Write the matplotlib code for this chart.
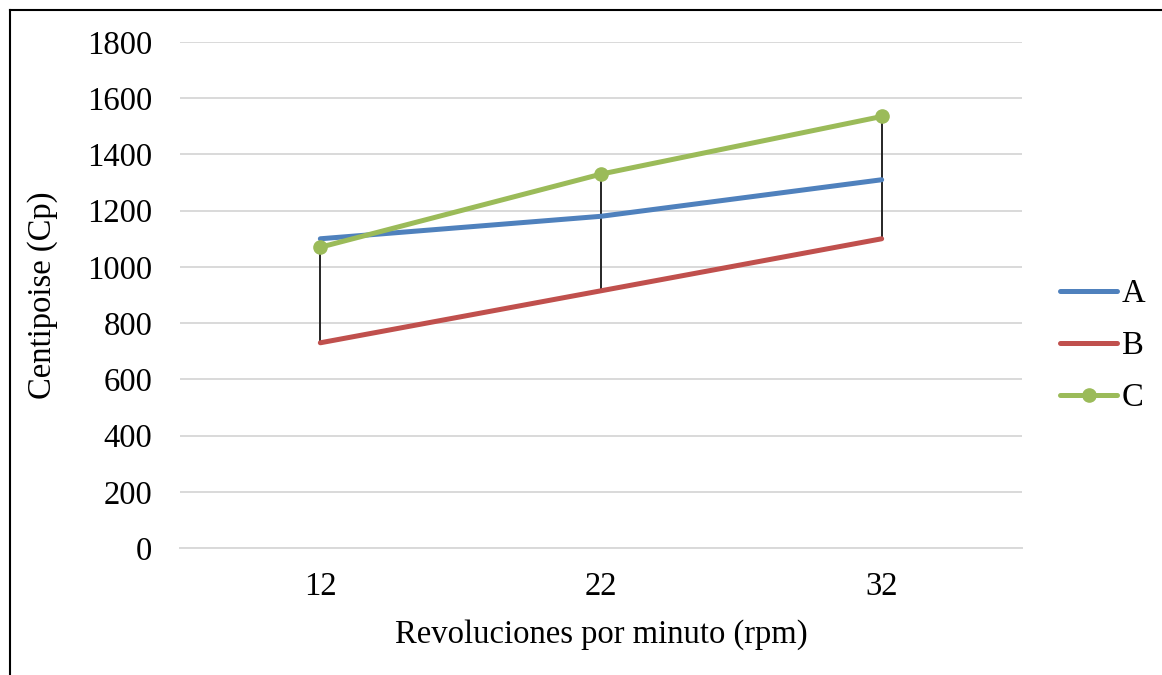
import matplotlib
matplotlib.use("Agg")
import matplotlib.pyplot as plt
from matplotlib.lines import Line2D
import numpy as np

categories = ["12", "22", "32"]
serie_a = [1100, 1180, 1310]
serie_b = [730, 915, 1100]
serie_c = [1070, 1330, 1535]
yticks = [0, 200, 400, 600, 800, 1000, 1200, 1400, 1600, 1800]

plt.rcParams['font.family'] = ['Liberation Serif', 'DejaVu Serif']
FS = 23.5

fig = plt.figure(figsize=(11.62, 6.75), dpi=100)
ax = fig.add_axes([180/1162, 1-548/675, (1022-180)/1162, (548-42)/675])

x = np.arange(len(categories))
data = np.array([serie_a, serie_b, serie_c])
lo = data.min(axis=0)
hi = data.max(axis=0)
ax.vlines(x, lo, hi, color='#262626', lw=1.4, zorder=2)

ax.plot(x, serie_a, color='#4F81BD', lw=3.6, solid_capstyle='round', label='A', zorder=3)
ax.plot(x, serie_b, color='#C0504D', lw=3.6, solid_capstyle='round', label='B', zorder=3)
ax.plot(x, serie_c, color='#9BBB59', lw=3.6, solid_capstyle='round', marker='o', ms=9.5, label='C', zorder=4)

ax.set_xlim(-0.5, len(categories) - 0.5)
ax.set_ylim(0, 1800)
ax.set_yticks(yticks)
ax.set_xticks(x)
ax.set_xticklabels(categories)
ax.tick_params(axis='both', length=0, labelsize=FS)
ax.tick_params(axis='y', pad=20)
ax.tick_params(axis='x', pad=17)
ax.grid(axis='y', color='#D9D9D9', lw=1.4, zorder=0)
ax.set_axisbelow(True)
for s in ['top', 'right', 'left']:
    ax.spines[s].set_visible(False)
ax.spines['bottom'].set_color('#D9D9D9')
ax.spines['bottom'].set_linewidth(1.4)

ax.set_xlabel('Revoluciones por minuto (rpm)', fontsize=FS, labelpad=12)
ax.set_ylabel('Centipoise (Cp)', fontsize=FS, labelpad=21)

leg = fig.legend(*ax.get_legend_handles_labels(), loc='center left',
                 bbox_to_anchor=(1060/1162, 1-346/675), frameon=False,
                 fontsize=FS, handlelength=1.75, handletextpad=0.15, labelspacing=0.66,
                 borderpad=0, borderaxespad=0)

fig.add_artist(Line2D([10/1162, 10/1162], [0, 1-10/675], color='black', lw=1.5, transform=fig.transFigure))
fig.add_artist(Line2D([10/1162, 1], [1-10/675, 1-10/675], color='black', lw=1.5, transform=fig.transFigure))

fig.savefig('out.png', dpi=100)
